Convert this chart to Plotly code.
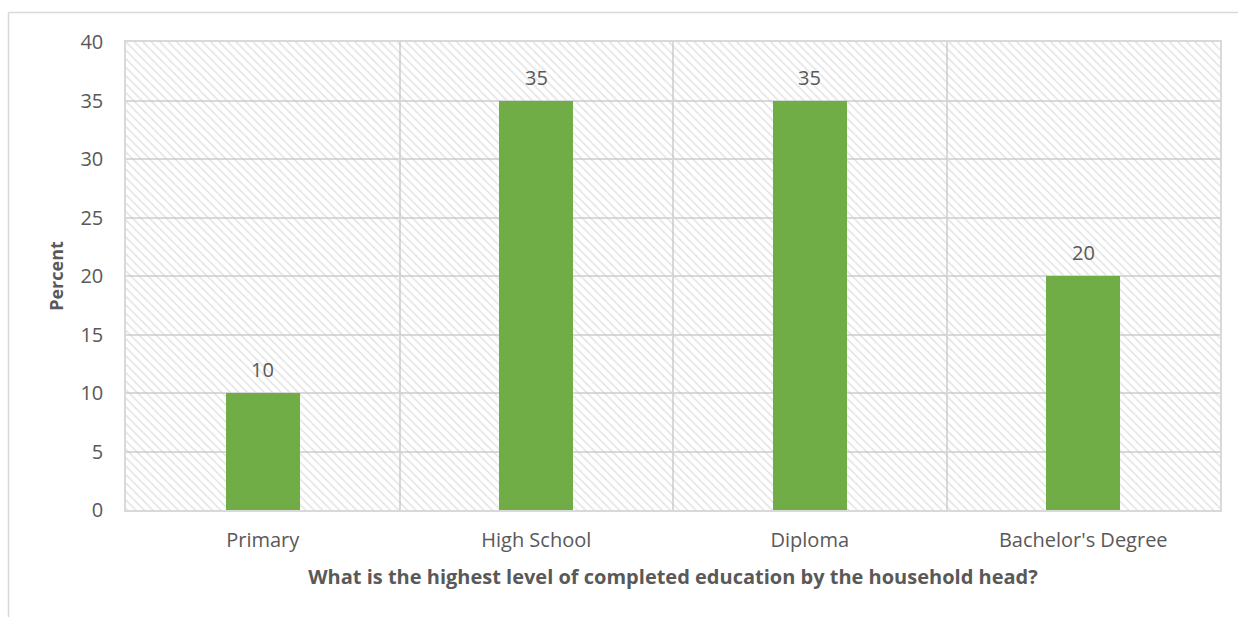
import plotly.graph_objects as go

categories = ["Primary", "High School", "Diploma", "Bachelor's Degree"]
values = [10, 35, 35, 20]
y_ticks = [0, 5, 10, 15, 20, 25, 30, 35, 40]
y_max = 40

font_family = "Open Sans, Calibri, sans-serif"
text_color = "#595959"
grid_color = "#D9D9D9"
bar_color = "#70AD47"

fig = go.Figure()

# hatched plot-area background (one full-width cell per category)
fig.add_trace(go.Bar(
    x=categories, y=[y_max] * len(categories), width=1,
    marker=dict(color="rgba(0,0,0,0)", line=dict(width=0),
                pattern=dict(shape="\\", fgcolor="#c6c6c6", bgcolor="rgba(0,0,0,0)",
                             size=6, solidity=0.25)),
    hoverinfo="skip", showlegend=False,
))

fig.add_trace(go.Bar(
    x=categories, y=values, width=0.27,
    marker=dict(color=bar_color, line=dict(width=0)),
    showlegend=False,
))

for c, v in zip(categories, values):
    fig.add_annotation(x=c, y=v, text=str(v), showarrow=False, yanchor="bottom",
                       yshift=8, font=dict(family=font_family, size=20, color=text_color))

L, R, T, B = 126, 18, 42, 107
W, H = 1238, 617
pw, ph = W - L - R, H - T - B
bx = (8.5 - L) / pw
by = (H - B - 12.5) / ph
fig.add_shape(type="line", xref="paper", yref="paper", x0=bx, x1=1.3, y0=by, y1=by,
              line=dict(color=grid_color, width=1.5))
fig.add_shape(type="line", xref="paper", yref="paper", x0=bx, x1=bx, y0=-0.5, y1=by,
              line=dict(color=grid_color, width=1.5))

fig.update_layout(
    width=W, height=H,
    margin=dict(l=L, r=R, t=T, b=B),
    paper_bgcolor="white", plot_bgcolor="white",
    barmode="overlay", bargap=0,
    font=dict(family=font_family, size=20, color=text_color),
)
fig.update_xaxes(
    type="category", range=[-0.5, 3.5], tickson="boundaries",
    showgrid=True, gridcolor=grid_color, gridwidth=1.5,
    showline=True, linecolor=grid_color, linewidth=1.5, mirror=True,
    ticks="", ticklabelstandoff=11, tickfont=dict(size=20, color=text_color),
    title=dict(text="<b>What is the highest level of completed education by the household head?</b>",
               font=dict(size=20, color=text_color), standoff=18),
)
fig.update_yaxes(
    range=[0, y_max], tickvals=y_ticks,
    showgrid=True, gridcolor=grid_color, gridwidth=1.5,
    showline=True, linecolor=grid_color, linewidth=1.5, mirror=True,
    ticks="", ticklabelstandoff=17, tickfont=dict(size=20, color=text_color),
    zeroline=False,
    title=dict(text="<b>Percent</b>", font=dict(size=18, color=text_color), standoff=12),
)

fig.write_html("out.html")
